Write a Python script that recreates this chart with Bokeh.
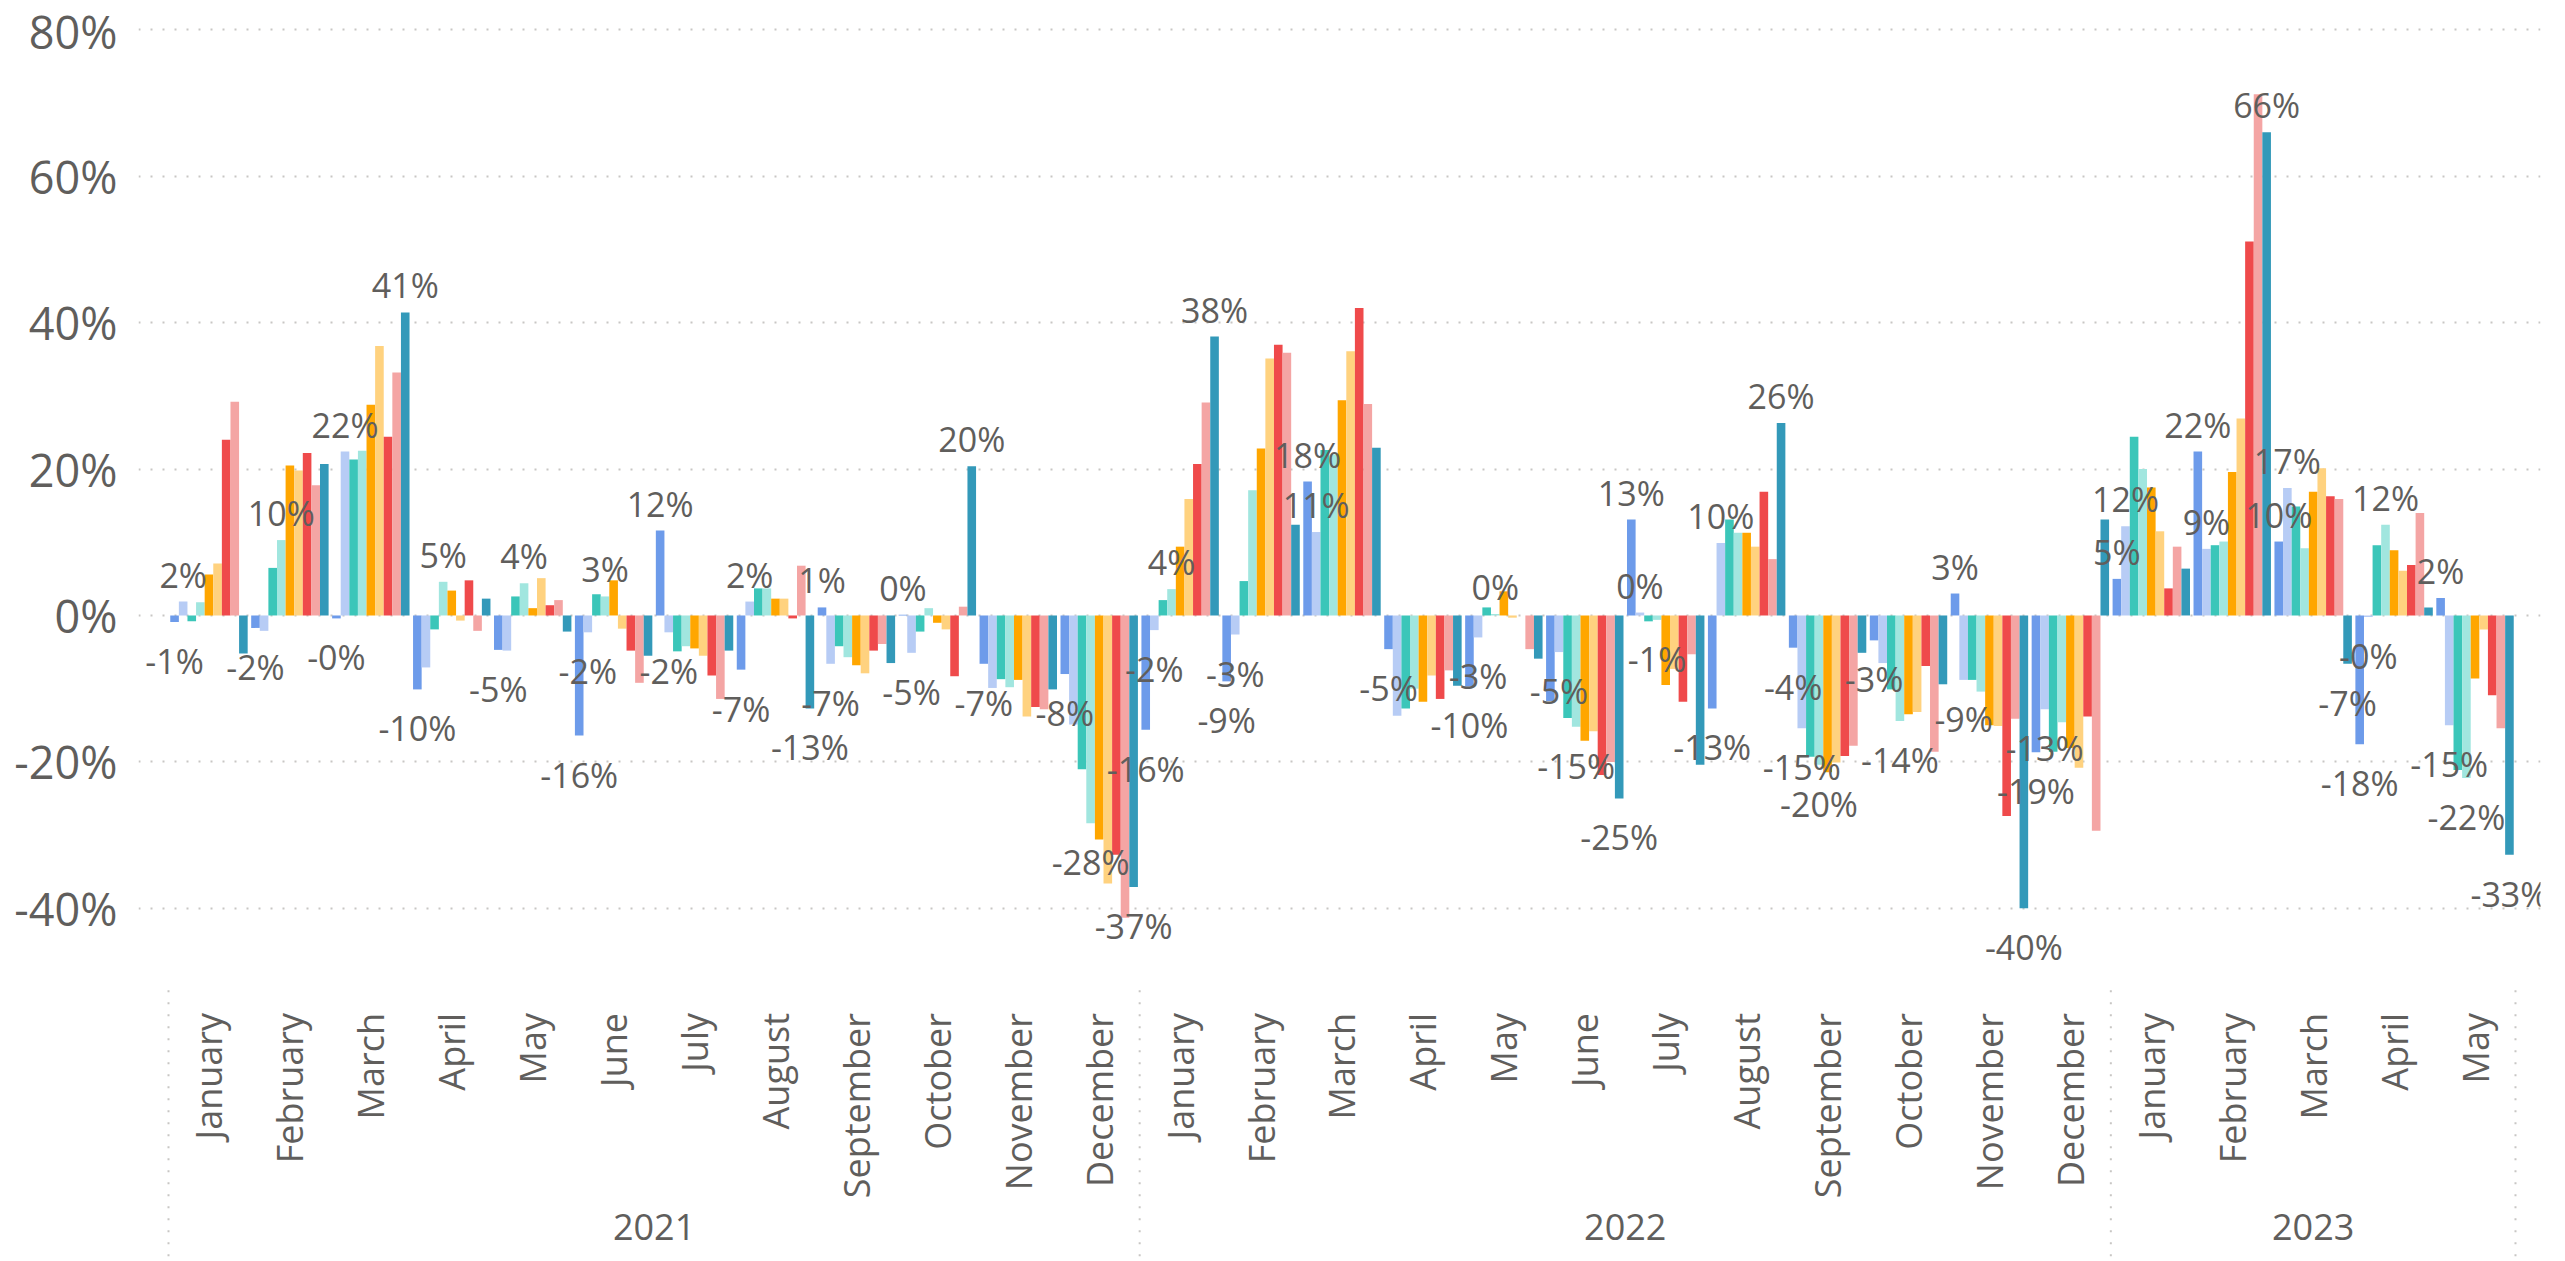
import math
from bokeh.plotting import figure
from bokeh.models import ColumnDataSource, FixedTicker, PrintfTickFormatter, Range1d
from bokeh.embed import file_html
from bokeh.resources import INLINE
from bokeh.core.properties import value

# ---------------- data ----------------
months = ["January", "February", "March", "April", "May", "June", "July",
          "August", "September", "October", "November", "December"]
month_labels = months + months + months[:5]
years = ["2021", "2022", "2023"]
year_month_counts = [12, 12, 5]

colors = ["#6D9BEA", "#B7CCF5", "#3BC6B9", "#A1E6DF", "#FFA600",
          "#FFD27F", "#EF4A4B", "#F4A5A4", "#3399B9"]

# monthly change, %  (Jan 2021 ... May 2023)
blue = [-0.9, -1.7, -0.4, -10.1, -4.7, -16.4, 11.6, -7.4, 1.1, 0.1, -6.6, -8.0,
        -15.6, -9.0, 18.3, -4.6, -9.7, -11.7, 13.1, -12.7, -4.4, -3.4, 3.0, -18.7,
        5.0, 22.4, 10.1, -17.6, 2.4]
light_blue = [1.9, -2.1, 22.4, -7.1, -4.8, -2.3, -2.3, 1.9, -6.6, -5.1, -9.9, -14.9,
              -2.0, -2.6, 11.4, -13.7, -3.0, -5.0, 0.4, 9.9, -15.4, -6.5, -8.8, -12.8,
              12.2, 9.1, 17.4, -0.2, -15.0]
teal = [-0.8, 6.5, 21.3, -1.9, 2.6, 2.9, -4.9, 3.7, -4.2, -2.2, -8.7, -21.0,
        2.1, 4.7, 22.6, -12.7, 1.1, -14.0, -0.8, 13.1, -19.3, -10.1, -8.8, -18.6,
        24.4, 9.6, 14.9, 9.6, -21.1]
light_teal = [1.8, 10.3, 22.5, 4.6, 4.4, 2.6, -4.2, 3.7, -5.7, 1.0, -9.8, -28.4,
              3.6, 17.1, 22.0, -10.0, 0.2, -15.2, -0.6, 11.3, -20.4, -14.4, -10.4, -14.6,
              20.0, 10.1, 9.2, 12.4, -22.2]
orange = [5.6, 20.5, 28.8, 3.4, 1.0, 4.8, -4.5, 2.3, -6.8, -1.0, -8.8, -30.6,
          9.4, 22.8, 29.4, -11.8, 3.3, -17.1, -9.5, 11.3, -21.4, -13.5, -15.0, -18.1,
          17.5, 19.6, 16.9, 8.9, -8.6]
light_orange = [7.1, 19.8, 36.8, -0.7, 5.1, -1.8, -5.5, 2.3, -7.9, -1.9, -13.8, -36.6,
                15.9, 35.1, 36.1, -8.2, -0.3, -15.8, -7.3, 9.4, -20.1, -13.2, -15.1, -20.8,
                11.5, 26.9, 20.1, 6.1, -1.9]
red = [24.0, 22.2, 24.4, 4.8, 1.4, -4.8, -8.2, -0.4, -4.8, -8.3, -12.5, -32.7,
       20.7, 37.0, 42.0, -11.4, 0.0, -21.8, -11.8, 16.9, -19.2, -6.9, -27.4, -13.8,
       3.7, 51.1, 16.3, 6.9, -10.9]
pink = [29.2, 17.8, 33.2, -2.1, 2.1, -9.2, -11.4, 6.8, -3.9, 1.2, -12.8, -41.3,
        29.1, 35.9, 28.9, -7.5, -4.6, -20.0, -5.3, 7.7, -17.8, -18.6, -14.1, -29.4,
        9.4, 71.2, 15.9, 14.0, -15.4]
dark_teal = [-5.2, 20.7, 41.4, 2.3, -2.2, -5.5, -4.8, -12.7, -6.5, 20.4, -10.1, -37.1,
             38.1, 12.4, 22.9, -9.6, -5.9, -25.0, -20.4, 26.3, -5.1, -9.4, -40.0, 13.1,
             6.4, 66.0, -6.6, 1.1, -32.7]

series_values = [blue, light_blue, teal, light_teal, orange,
                 light_orange, red, pink, dark_teal]

# visible data labels: (month index, series index)
labels = [(0, 1), (0, 0), (1, 3), (1, 0), (2, 1), (2, 0), (2, 8), (3, 3), (3, 0),
          (4, 3), (4, 0), (5, 3), (5, 1), (5, 0), (6, 0), (6, 1), (7, 1), (7, 0), (7, 8),
          (8, 0), (8, 1), (9, 0), (9, 1), (9, 8), (10, 0), (11, 0), (11, 3), (11, 8),
          (12, 0), (12, 1), (12, 3), (12, 8), (13, 0), (13, 1), (14, 0), (14, 1), (15, 0),
          (16, 0), (16, 1), (16, 3), (17, 1), (17, 3), (17, 8), (18, 0), (18, 1), (18, 3),
          (19, 0), (19, 1), (19, 8), (20, 0), (20, 1), (20, 3), (21, 0), (21, 3),
          (22, 0), (22, 1), (22, 8), (23, 0), (23, 1), (24, 0), (24, 1),
          (25, 0), (25, 1), (25, 8), (26, 0), (26, 1), (26, 8), (27, 0), (27, 1), (27, 3),
          (28, 0), (28, 1), (28, 3), (28, 8)]

y_ticks = [-40, -20, 0, 20, 40, 60, 80]

# ---------------- layout constants ----------------
n_months = len(month_labels)
n_series = len(series_values)
bw = 0.1063            # bar width in month units
Y_TOP, Y_BOTTOM = 81.28, -87.98
SEP_TOP = -51.2        # where the category separators start
MONTH_LABEL_Y = -54.3  # top end of the rotated month labels
YEAR_LABEL_Y = -83.5   # centre of the year labels

TEXT = "#605E5C"
GRID = "#C8C6C4"
FONT = "Open Sans"

p = figure(width=2563, height=1259, output_backend="svg", toolbar_location=None,
           x_range=Range1d(-0.3707, n_months + 0.309), y_range=Range1d(Y_BOTTOM, Y_TOP),
           x_axis_location=None,
           min_border_left=138, min_border_right=23, min_border_top=20, min_border_bottom=0)
p.outline_line_color = None
p.background_fill_color = "white"
p.border_fill_color = "white"

# bars
for s, vals in enumerate(series_values):
    xs = [i + 0.5 + (s - (n_series - 1) / 2) * bw for i in range(n_months)]
    p.vbar(x=xs, top=vals, bottom=0, width=bw, fill_color=colors[s], line_color=None)

# data labels
pos = dict(x=[], y=[], text=[])
neg = dict(x=[], y=[], text=[])
for (m, s) in labels:
    v = series_values[s][m]
    d = pos if v >= 0 else neg
    d["x"].append(m + 0.5 + (s - (n_series - 1) / 2) * bw)
    d["y"].append(v)
    d["text"].append(f"{v:.0f}%")

common = dict(text_font=value(FONT), text_font_size="34px", text_color=TEXT,
              text_align="center", text_baseline="middle")
p.text(x="x", y="y", text="text", source=ColumnDataSource(pos), y_offset=-27, **common)
p.text(x="x", y="y", text="text", source=ColumnDataSource(neg), y_offset=39, **common)

# y axis
ya = p.yaxis[0]
ya.ticker = FixedTicker(ticks=y_ticks)
ya.formatter = PrintfTickFormatter(format="%d%%")
ya.axis_line_color = None
ya.major_tick_line_color = None
ya.minor_tick_line_color = None
ya.major_tick_out = 0
ya.major_label_standoff = 21
ya.major_label_text_font = FONT
ya.major_label_text_font_size = "45px"
ya.major_label_text_color = TEXT

p.xgrid.visible = False
p.ygrid.ticker = FixedTicker(ticks=y_ticks)
p.ygrid.grid_line_color = GRID
p.ygrid.grid_line_width = 2
p.ygrid.grid_line_dash = "2 10"

# category axis: separators, month labels, year labels
bounds = [0]
for c in year_month_counts:
    bounds.append(bounds[-1] + c)
p.segment(x0=bounds, y0=[SEP_TOP] * len(bounds), x1=bounds, y1=[Y_BOTTOM] * len(bounds),
          line_color=GRID, line_width=2, line_dash="2 10")

centers = [i + 0.5 for i in range(n_months)]
p.text(x=centers, y=[MONTH_LABEL_Y] * n_months, text=month_labels, angle=math.pi / 2,
       text_font=value(FONT), text_font_size="36px", text_color=TEXT,
       text_align="right", text_baseline="middle")

year_centers = [(a + b) / 2 for a, b in zip(bounds[:-1], bounds[1:])]
p.text(x=year_centers, y=[YEAR_LABEL_Y] * len(years), text=years,
       text_font=value(FONT), text_font_size="36px", text_color=TEXT,
       text_align="center", text_baseline="middle")

open("out.html", "w").write(file_html(p, INLINE))
